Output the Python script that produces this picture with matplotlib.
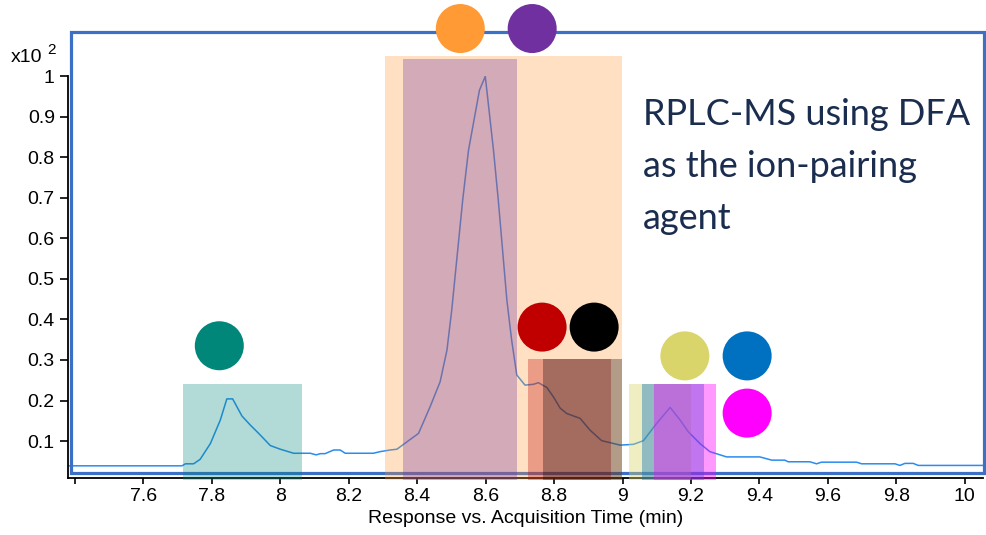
import matplotlib
matplotlib.use("Agg")
import matplotlib.pyplot as plt
from matplotlib.patches import Rectangle

# Chromatogram trace (time in min, response x10^2)
time_min = [7.380, 7.713, 7.723, 7.747, 7.766, 7.796, 7.825, 7.844, 7.861, 7.888,
            7.912, 7.937, 7.971, 8.000, 8.039, 8.088, 8.105, 8.117, 8.131, 8.156,
            8.175, 8.190, 8.272, 8.292, 8.321, 8.341, 8.370, 8.404, 8.438, 8.467,
            8.487, 8.501, 8.533, 8.550, 8.582, 8.599, 8.623, 8.637, 8.662, 8.676,
            8.691, 8.715, 8.740, 8.754, 8.779, 8.798, 8.818, 8.837, 8.876, 8.905,
            8.939, 8.964, 8.993, 9.032, 9.061, 9.100, 9.139, 9.168, 9.192, 9.226,
            9.255, 9.304, 9.401, 9.436, 9.474, 9.484, 9.547, 9.567, 9.581, 9.684,
            9.698, 9.796, 9.810, 9.825, 9.849, 9.864, 10.053]
response = [0.039, 0.039, 0.044, 0.044, 0.055, 0.094, 0.152, 0.204, 0.204, 0.162,
            0.140, 0.119, 0.089, 0.080, 0.070, 0.070, 0.066, 0.069, 0.069, 0.078,
            0.078, 0.070, 0.070, 0.074, 0.078, 0.080, 0.098, 0.119, 0.185, 0.246,
            0.324, 0.423, 0.694, 0.817, 0.965, 0.999, 0.817, 0.694, 0.448, 0.349,
            0.263, 0.238, 0.240, 0.244, 0.232, 0.209, 0.181, 0.168, 0.156, 0.127,
            0.101, 0.096, 0.090, 0.092, 0.101, 0.144, 0.183, 0.152, 0.123, 0.094,
            0.074, 0.061, 0.061, 0.053, 0.053, 0.049, 0.049, 0.044, 0.048, 0.048,
            0.044, 0.044, 0.040, 0.045, 0.045, 0.040, 0.040]

# Highlighted retention windows: (start, end, top, colour, alpha)
win_start = [7.717, 8.307, 8.359, 8.724, 8.768, 9.019, 9.057, 9.092]
win_end   = [8.065, 8.999, 8.692, 8.966, 8.999, 9.200, 9.238, 9.273]
win_top   = [0.241, 1.050, 1.043, 0.302, 0.302, 0.241, 0.241, 0.241]
win_color = ["#00877A", "#FF9A35", "#7030A0", "#C00000", "#000000",
             "#D9D56A", "#0070C0", "#FF00FF"]
win_alpha = [0.30, 0.30, 0.30, 0.30, 0.30, 0.40, 0.40, 0.40]
win_bottom = 0.005

# Species markers
dot_x = [7.822, 8.526, 8.736, 8.765, 8.917, 9.182, 9.364, 9.364]
dot_y = [0.335, 1.117, 1.117, 0.381, 0.381, 0.310, 0.310, 0.169]
dot_color = ["#00877A", "#FF9A35", "#7030A0", "#C00000", "#000000",
             "#D9D56A", "#0070C0", "#FF00FF"]

x_ticks = [7.4, 7.6, 7.8, 8.0, 8.2, 8.4, 8.6, 8.8, 9.0, 9.2, 9.4, 9.6, 9.8, 10.0]
x_tick_labels = ["", "7.6", "7.8", "8", "8.2", "8.4", "8.6", "8.8", "9",
                 "9.2", "9.4", "9.6", "9.8", "10"]
y_ticks = [0.1, 0.2, 0.3, 0.4, 0.5, 0.6, 0.7, 0.8, 0.9, 1.0]
y_tick_labels = ["0.1", "0.2", "0.3", "0.4", "0.5", "0.6", "0.7", "0.8", "0.9", "1"]

plt.rcParams["font.family"] = ["Liberation Sans", "DejaVu Sans"]

fig = plt.figure(figsize=(9.86, 5.35), dpi=100)
ax = fig.add_axes([68 / 986, 1 - 478 / 535, (983 - 68) / 986, (478 - 76) / 535])
ax.set_xlim(7.380, 10.053)
ax.set_ylim(0.009, 1.0)

ax.plot(time_min, response, color="#2A8CEE", lw=1.1, zorder=2)

# frame drawn around the plot area
ax.add_patch(Rectangle((7.389, 0.021), 10.056 - 7.389, 1.108 - 0.021,
                       fill=False, edgecolor="#3C6FC6", lw=2.3,
                       clip_on=False, zorder=3))

for s, e, t, c, a in zip(win_start, win_end, win_top, win_color, win_alpha):
    ax.bar(s, t - win_bottom, width=e - s, bottom=win_bottom, align="edge",
           color=c, alpha=a, lw=0, clip_on=False, zorder=4)

ax.scatter(dot_x, dot_y, s=1245, c=dot_color, linewidths=0,
           clip_on=False, zorder=5)

for sp in ["top", "right"]:
    ax.spines[sp].set_visible(False)
for sp in ["left", "bottom"]:
    ax.spines[sp].set_linewidth(1.3)
    ax.spines[sp].set_color("black")

ax.set_xticks(x_ticks)
ax.set_xticklabels(x_tick_labels)
ax.set_yticks(y_ticks)
ax.set_yticklabels(y_tick_labels)
ax.tick_params(axis="x", direction="out", length=4.5, width=1.2, pad=3,
               labelsize=14)
ax.tick_params(axis="y", direction="out", length=5.5, width=1.2, pad=4,
               labelsize=14)
ax.set_xlabel("Response vs. Acquisition Time (min)", fontsize=14, labelpad=3)

fig.text(11 / 986, 1 - 62 / 535, "x10", fontsize=14, va="baseline", ha="left")
fig.text(47 / 986, 1 - 54 / 535, "2", fontsize=11, va="baseline", ha="left")

title_lines = ["RPLC-MS using DFA", "as the ion-pairing", "agent"]
for i, line in enumerate(title_lines):
    fig.text(643 / 986, 1 - (125 + 52 * i) / 535, line, fontsize=26,
             family=["Lato", "DejaVu Sans"], color="#1B2D4F",
             va="baseline", ha="left")

fig.savefig("out.png", dpi=100)
